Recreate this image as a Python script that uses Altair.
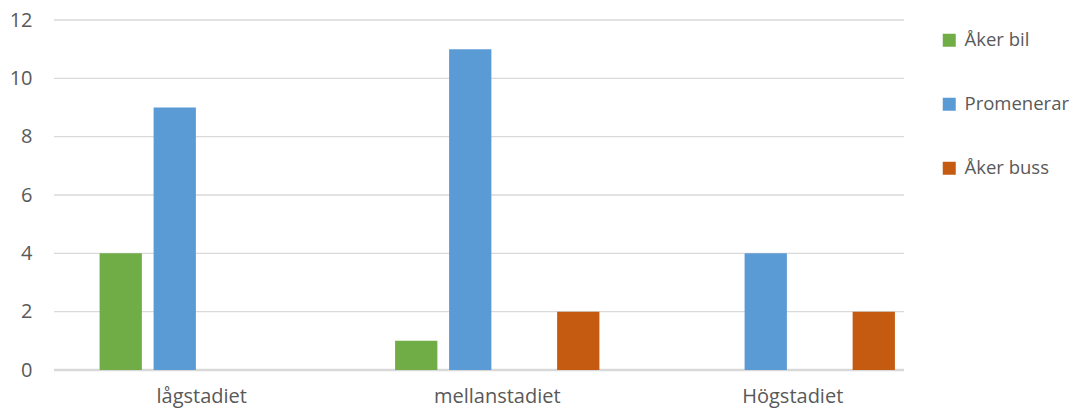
import altair as alt
import pandas as pd

stages = ["lågstadiet", "mellanstadiet", "Högstadiet"]
series = ["Åker bil", "Promenerar", "Åker buss"]
slots = ["Åker bil", "Promenerar", " ", "Åker buss"]
aker_bil = [4, 1, 0]
promenerar = [9, 11, 4]
aker_buss = [0, 2, 2]
y_ticks = [0, 2, 4, 6, 8, 10, 12]
colors = ["#70AD47", "#5B9BD5", "#C55A11"]

rows = []
for i, s in enumerate(stages):
    rows.append({"stadium": s, "serie": "Åker bil", "v": aker_bil[i]})
    rows.append({"stadium": s, "serie": "Promenerar", "v": promenerar[i]})
    rows.append({"stadium": s, "serie": "Åker buss", "v": aker_buss[i]})
df = pd.DataFrame(rows)
grid_df = pd.DataFrame({"v": y_ticks})

FONT = "Open Sans"
TXT = "#595959"
yscale = alt.Scale(domain=[0, 12], nice=False)
yaxis = alt.Axis(values=y_ticks, domain=False, ticks=False, grid=False,
                 tickSize=0, labelPadding=22, labelFont=FONT, labelFontSize=20,
                 labelColor=TXT, title=None)

grid = alt.Chart(grid_df).mark_rule(color="#D9D9D9").encode(
    y=alt.Y("v:Q", scale=yscale, axis=yaxis, title=None),
    x=alt.value(0),
    x2=alt.value(850),
    strokeWidth=alt.condition("datum.v === 0", alt.value(2.5), alt.value(1.3)),
)

bars = alt.Chart(df).mark_bar().encode(
    x=alt.X("stadium:N", sort=stages, title=None,
            scale=alt.Scale(paddingInner=0, paddingOuter=0),
            axis=alt.Axis(labelAngle=0, domain=False, ticks=False, tickSize=0,
                          labelPadding=16, labelFont=FONT, labelFontSize=20,
                          labelColor=TXT)),
    xOffset=alt.XOffset("serie:N", sort=slots,
                        scale=alt.Scale(domain=slots, paddingInner=0.217, paddingOuter=0.844)),
    y=alt.Y("v:Q", title=None, scale=yscale, axis=yaxis),
    color=alt.Color("serie:N", sort=series,
                    scale=alt.Scale(domain=series, range=colors),
                    legend=alt.Legend(title=None, orient="none", legendX=886, legendY=11,
                                      symbolType="square", symbolSize=169,
                                      symbolStrokeWidth=0, labelFont=FONT,
                                      labelFontSize=18.5, labelColor=TXT,
                                      labelOffset=6, rowPadding=45)),
)

chart = alt.layer(grid, bars).properties(
    width=886.5, height=350,
    autosize=alt.AutoSizeParams(type="none"),
    padding={"left": 46, "top": 12, "right": 128, "bottom": 47},
).configure_view(stroke=None)

chart.save("out.html", embed_options={"renderer": "svg", "actions": False})
